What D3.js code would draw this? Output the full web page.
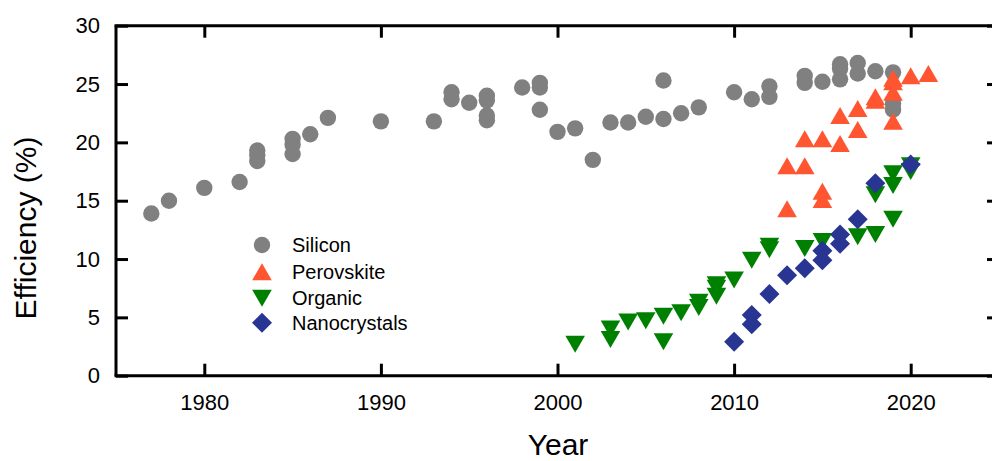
<!DOCTYPE html>
<html><head><meta charset="utf-8">
<script src="https://cdn.jsdelivr.net/npm/d3@7"></script>
<style>
html,body{margin:0;padding:0;background:#fff;}
svg{display:block;font-family:"Liberation Sans",Arial,sans-serif;}
</style></head>
<body><svg id="c" width="992" height="461"></svg>
<script>
// ---- data ----
const siliconYears = [1977,1978,1980,1982,1983,1983,1983,1985,1985,1985,1986,1987,1990,1993,1994,1994,1995,1996,1996,1996,1996,1998,1999,1999,1999,2000,2001,2002,2003,2004,2005,2006,2006,2007,2008,2010,2011,2012,2012,2014,2014,2015,2016,2016,2016,2017,2017,2018,2019,2019,2019];
const siliconValues = [13.9,15.0,16.1,16.6,19.3,18.9,18.4,20.3,19.8,19.0,20.7,22.1,21.8,21.8,24.3,23.7,23.4,24.0,23.6,22.3,21.9,24.7,25.1,24.7,22.8,20.9,21.2,18.5,21.7,21.7,22.2,25.3,22.0,22.5,23.0,24.3,23.7,24.8,23.9,25.7,25.1,25.2,26.7,26.3,25.4,26.8,25.9,26.1,26.0,23.3,22.8];

const perovskiteYears = [2013,2013,2014,2014,2015,2015,2015,2016,2016,2017,2017,2018,2018,2019,2019,2019,2019,2020,2021];
const perovskiteValues = [14.3,18.0,18.0,20.3,20.3,15.8,15.1,22.3,19.9,22.9,21.1,23.9,23.6,25.5,25.2,24.3,21.8,25.7,25.9];

const organicYears = [2001,2003,2003,2004,2005,2006,2006,2007,2008,2008,2009,2009,2009,2010,2011,2012,2012,2014,2015,2017,2018,2018,2019,2019,2019,2020,2020];
const organicValues = [2.7,4.0,3.1,4.6,4.7,5.1,2.9,5.4,6.3,5.85,7.8,7.5,6.8,8.2,9.9,11.1,10.8,10.9,11.5,11.9,12.1,15.5,13.4,16.3,17.3,17.5,18.0];

const nanoYears = [2010,2011,2011,2012,2013,2014,2015,2015,2016,2016,2017,2018,2020];
const nanoValues = [2.9,5.2,4.4,7.0,8.6,9.2,10.7,9.9,12.1,11.3,13.4,16.5,18.1];

const seriesNames = ["Silicon","Perovskite","Organic","Nanocrystals"];
const seriesColors = ["#808080","#ff5530","#008000","#283593"];
const seriesShapes = ["circle","up","down","diamond"];
const xTicks = [1980,1990,2000,2010,2020];
const yTicks = [0,5,10,15,20,25,30];

// ---- layout ----
const svg = d3.select("#c");
const x = d3.scaleLinear().domain([1975,2025]).range([116,999]);
const y = d3.scaleLinear().domain([0,30]).range([375.7,25.7]);

function shapePath(s){
  if(s==="circle") return d3.symbol(d3.symbolCircle, Math.PI*8.2*8.2)();
  if(s==="up"){ const w=9.8,h=17; return `M0,${-h/2}L${w},${h/2}L${-w},${h/2}Z`; }
  if(s==="down"){ const w=9.8,h=17; return `M0,${h/2}L${w},${-h/2}L${-w},${-h/2}Z`; }
  if(s==="diamond"){ const r=10; return `M0,${-r}L${r},0L0,${r}L${-r},0Z`; }
}

const data = [
  [siliconYears, siliconValues],
  [perovskiteYears, perovskiteValues],
  [organicYears, organicValues],
  [nanoYears, nanoValues]
];

data.forEach(([xs,vs],i)=>{
  svg.append("g").selectAll("path").data(xs.map((d,j)=>[d,vs[j]])).join("path")
    .attr("d", shapePath(seriesShapes[i]))
    .attr("transform", d=>`translate(${x(d[0])},${y(d[1])})`)
    .attr("fill", seriesColors[i]);
});

// ---- axes (frame with inward ticks) ----
const tl = 12;
const gB = svg.append("g").attr("transform",`translate(0,${y(0)})`)
  .call(d3.axisBottom(x).tickValues(xTicks).tickSize(-tl).tickPadding(tl+7).tickFormat(d3.format("d")));
const gT = svg.append("g").attr("transform",`translate(0,${y(30)})`)
  .call(d3.axisTop(x).tickValues(xTicks).tickSize(-tl).tickFormat(""));
const gL = svg.append("g").attr("transform",`translate(${x(1975)},0)`)
  .call(d3.axisLeft(y).tickValues(yTicks).tickSize(-tl).tickPadding(tl+4));
const gR = svg.append("g").attr("transform",`translate(${x(2025)},0)`)
  .call(d3.axisRight(y).tickValues(yTicks).tickSize(-tl).tickFormat(""));
[gB,gT,gL,gR].forEach(g=>{
  g.attr("font-size",22).attr("font-family","Liberation Sans, Arial, sans-serif");
  g.select(".domain").attr("stroke","#000").attr("stroke-width",3);
  g.selectAll(".tick line").attr("stroke","#000").attr("stroke-width",3);
  g.selectAll("text").attr("fill","#000");
});
gB.selectAll(".domain").attr("d",`M${x(1975)-1.5},0H${x(2025)+1.5}`);
gT.selectAll(".domain").attr("d",`M${x(1975)-1.5},0H${x(2025)+1.5}`);
gL.selectAll(".domain").attr("d",`M0,${y(0)}V${y(30)}`);
gR.selectAll(".domain").attr("d",`M0,${y(0)}V${y(30)}`);

// ---- titles ----
svg.append("text").attr("x",558).attr("y",455).attr("text-anchor","middle")
  .attr("font-size",30).text("Year");
svg.append("text").attr("transform","translate(36,228) rotate(-90)").attr("text-anchor","middle")
  .attr("font-size",30).text("Efficiency (%)");

// ---- legend ----
const leg = svg.append("g");
const legY = [245,271.7,298.3,322.7];
seriesNames.forEach((n,i)=>{
  leg.append("path").attr("d",shapePath(seriesShapes[i])).attr("fill",seriesColors[i])
    .attr("transform",`translate(262,${legY[i]})`);
  leg.append("text").attr("x",292).attr("y",legY[i]+7).attr("font-size",20).text(n);
});
</script></body></html>
